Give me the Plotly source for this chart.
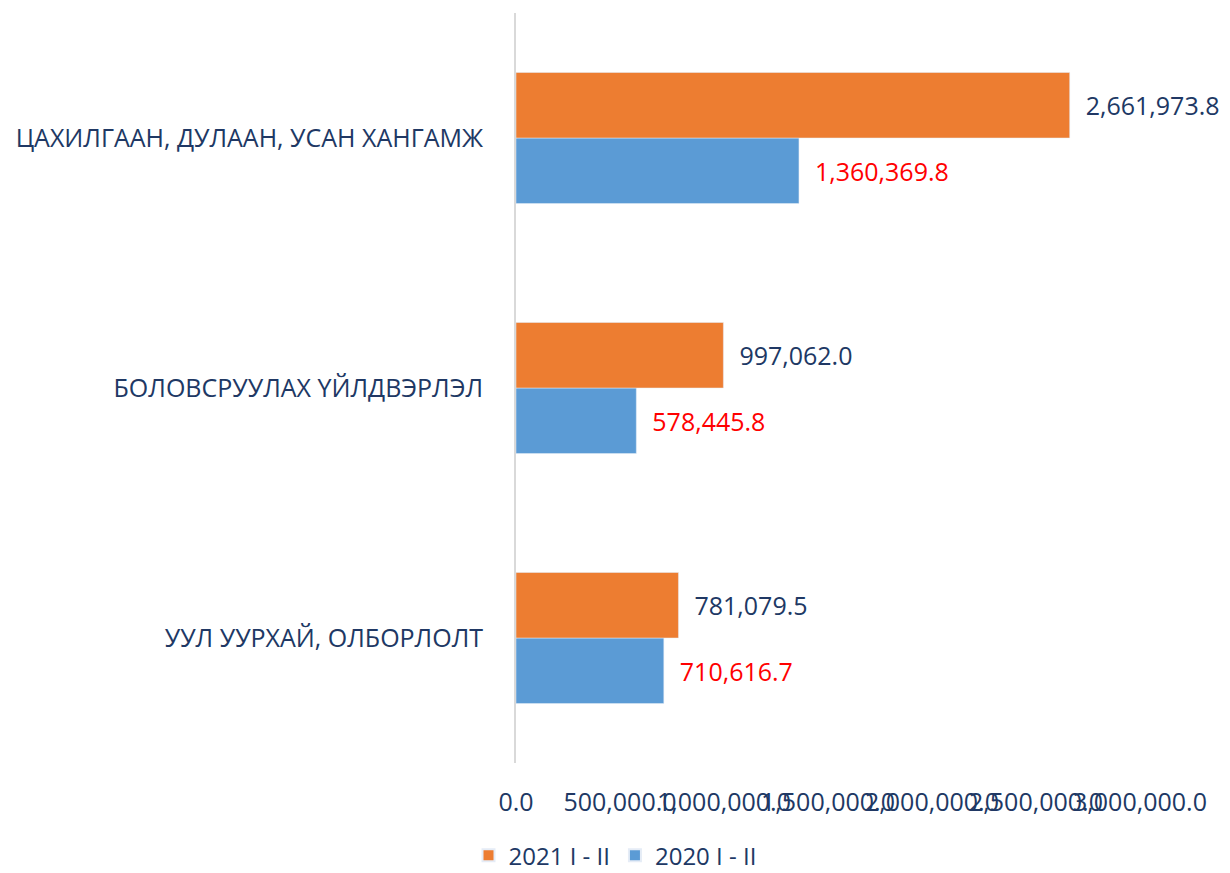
import plotly.graph_objects as go

categories = ["УУЛ УУРХАЙ, ОЛБОРЛОЛТ", "БОЛОВСРУУЛАХ ҮЙЛДВЭРЛЭЛ", "ЦАХИЛГААН, ДУЛААН, УСАН ХАНГАМЖ"]
values_2021 = [781079.5, 997062.0, 2661973.8]
values_2020 = [710616.7, 578445.8, 1360369.8]
tick_vals = [0, 500000, 1000000, 1500000, 2000000, 2500000, 3000000]
tick_text = ["0.0", "500,000.0", "1,000,000.0", "1,500,000.0", "2,000,000.0", "2,500,000.0", "3,000,000.0"]

NAVY = "#203864"
FONT = "Open Sans"
FS = 25

fig = go.Figure()
fig.add_trace(go.Bar(
    y=categories, x=values_2020, orientation="h", name="2020 I - II",
    marker=dict(color="#5B9BD5"),
    texttemplate="  %{x:,.1f}", textposition="outside",
    textfont=dict(color="#FF0000", size=FS, family=FONT),
    legendrank=2, cliponaxis=False,
))
fig.add_trace(go.Bar(
    y=categories, x=values_2021, orientation="h", name="2021 I - II",
    marker=dict(color="#ED7D31"),
    texttemplate="  %{x:,.1f}", textposition="outside",
    textfont=dict(color=NAVY, size=FS, family=FONT),
    legendrank=1, cliponaxis=False,
))

fig.update_layout(
    width=1230, height=873,
    margin=dict(l=516, r=90, t=13, b=110),
    paper_bgcolor="white", plot_bgcolor="white",
    barmode="group", bargap=0.476, bargroupgap=0,
    font=dict(family=FONT, color=NAVY, size=FS),
    showlegend=True,
    legend=dict(orientation="h", xref="container", yref="container",
                x=0.5, xanchor="center", y=0.02, yanchor="middle",
                itemsizing="constant",
                font=dict(size=FS - 1, color=NAVY, family=FONT)),
)
fig.update_xaxes(
    range=[0, 3000000], tickvals=tick_vals, ticktext=tick_text,
    tickangle=0, showgrid=False, zeroline=False, showline=False,
    automargin=False,
    ticklabelstandoff=22, tickfont=dict(size=FS, color=NAVY, family=FONT),
)
fig.update_yaxes(
    showgrid=False, showline=True, linecolor="#D9D9D9", linewidth=2,
    ticks="", ticklabelstandoff=26, automargin=False,
    tickfont=dict(size=FS, color=NAVY, family=FONT),
)

fig.write_html("out.html", config={"displayModeBar": False},
               post_script="document.body.style.margin='0';")
